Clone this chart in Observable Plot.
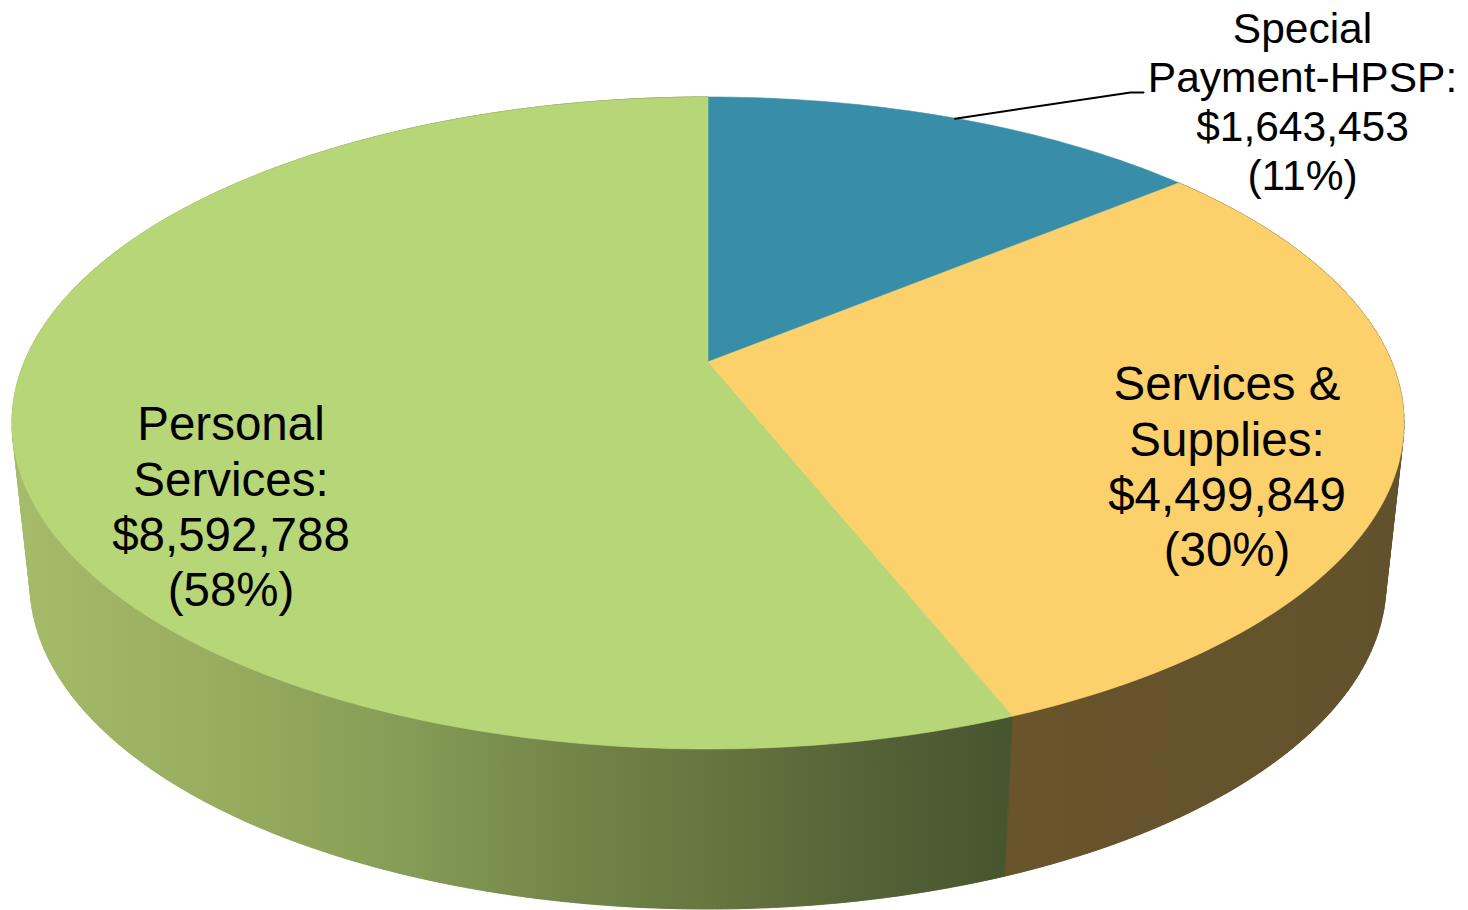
<!DOCTYPE html>
<html>
<head>
<meta charset="utf-8">
<title>Expenditures by category</title>
<script src="https://cdn.jsdelivr.net/npm/d3@7"></script>
<script src="https://cdn.jsdelivr.net/npm/@observablehq/plot@0.6"></script>
<style>
  html, body { margin: 0; padding: 0; background: #fff; overflow: hidden; }
  svg { display: block; }
</style>
</head>
<body>
<div id="chart"></div>
<script>
// Budget categories, clockwise from twelve o'clock.
const categories = ["Special Payment-HPSP", "Services & Supplies", "Personal Services"];
const labelLines = ["Special\nPayment-HPSP:", "Services &\nSupplies:", "Personal\nServices:"];
const amounts = [1643453, 4499849, 8592788];
const percents = [11, 30, 58];

const W = 1468, H = 910;

// Tilted-disc view: rim ellipses of the top and bottom faces and the projected centre.
const topRim = {cx: 708, cy: 423, rx: 696, ry: 326};
const bottomRim = {cx: 708, cy: 583, rx: 678, ry: 326};
const apex = {x: 708, y: 362};

// Perspective shifts the true angle slightly along the rim.
const rad = Math.PI / 180;
const rimAngle = (deg) => deg + 5.78 * Math.sin(deg * rad) - 1.29 * Math.sin(2 * deg * rad);
const rimPoint = (ring, deg) => {
  const a = rimAngle(deg) * rad;
  return {x: ring.cx + ring.rx * Math.sin(a), y: ring.cy - ring.ry * Math.cos(a)};
};

// Share of the disc taken by each category, as start and end angles.
const total = d3.sum(amounts);
let running = 0;
const slices = categories.map((name, i) => {
  const start = (running / total) * 360;
  running += amounts[i];
  const end = (running / total) * 360;
  return {name, start, end, mid: (start + end) / 2};
});

// Sweep of one slice, sampled finely enough that the rim reads as a curve.
const sweep = ({start, end}) => {
  const n = Math.ceil(end - start);
  return d3.range(n + 1).map((i) => start + ((end - start) * i) / n);
};

const faceRows = (s) => sweep(s).map((deg) => {
  const p = rimPoint(topRim, deg);
  return {x1: apex.x, y1: apex.y, x2: p.x, y2: p.y};
});

const wallRow = (deg) => {
  const p = rimPoint(topRim, deg), q = rimPoint(bottomRim, deg);
  return {x1: p.x, y1: p.y, x2: q.x, y2: q.y};
};

// One ribbon between the rims for the body of the wall.
const sideRows = (s) => sweep(s).map(wallRow);

// Separate quads underneath it fill the slivers between the rims and the
// straight silhouette that joins them at the left and right ends of the disc.
const silhouetteRows = (s) =>
  d3.pairs(sweep(s)).flatMap(([a, b], strip) => [a, b].map((deg) => ({strip, ...wallRow(deg)})));

const faceColors = ["#388ea9", "#fcd16b", "#b6d677"];

// Horizontal shading for the wall of the large slice, plus the darker wall beside it.
const gradients = () => {
  const defs = d3.create("svg:defs");
  const shade = defs.append("linearGradient")
    .attr("id", "wall-green")
    .attr("gradientUnits", "userSpaceOnUse")
    .attr("x1", 12).attr("x2", 1010).attr("y1", 0).attr("y2", 0);
  [[0, "#a5bc6a"], [0.2, "#98ad5f"], [0.4, "#849c55"], [0.56, "#728549"],
   [0.7, "#66763f"], [0.85, "#566338"], [1, "#47552e"]]
    .forEach(([o, c]) => shade.append("stop").attr("offset", o).attr("stop-color", c));
  const brown = defs.append("linearGradient")
    .attr("id", "wall-orange")
    .attr("gradientUnits", "userSpaceOnUse")
    .attr("x1", 1005).attr("x2", 1400).attr("y1", 0).attr("y2", 0);
  [[0, "#6a542b"], [0.5, "#65532b"], [1, "#62522c"]]
    .forEach(([o, c]) => brown.append("stop").attr("offset", o).attr("stop-color", c));
  return defs.node();
};

const labelText = categories.map((_, i) =>
  `${labelLines[i]}\n$${d3.format(",")(amounts[i])}\n(${percents[i]}%)`);

// Leader from near the middle of the smallest slice to its label.
const leaderStart = rimPoint(topRim, slices[0].mid - 0.45);
const leader = [leaderStart, {x: 1130, y: 92}, {x: 1143, y: 92}];

const area = (rows, fill) => Plot.area(rows, {
  x1: "x1", y1: "y1", x2: "x2", y2: "y2", z: "strip", fill, stroke: fill, strokeWidth: 0.6
});

const label = (i, x, y, fontSize, lineHeight) => Plot.text([labelText[i]], {
  text: (d) => d, x: () => x, y: () => y,
  fontSize, lineHeight, fill: "#000", textAnchor: "middle", lineAnchor: "middle"
});

const chart = Plot.plot({
  width: W,
  height: H,
  margin: 0,
  style: {fontFamily: "'Liberation Sans', Arial, sans-serif", background: "#fff", overflow: "hidden"},
  x: {domain: [0, W], range: [0, W], axis: null},
  y: {domain: [0, H], range: [0, H], axis: null},
  marks: [
    gradients,
    area(silhouetteRows(slices[1]), "url(#wall-orange)"),
    area(silhouetteRows(slices[2]), "url(#wall-green)"),
    area(sideRows(slices[1]), "url(#wall-orange)"),
    area(sideRows(slices[2]), "url(#wall-green)"),
    ...slices.map((s, i) => area(faceRows(s), faceColors[i])),
    Plot.line(leader, {x: "x", y: "y", stroke: "#000", strokeWidth: 2}),
    label(0, 1302, 100, 42.5, 1.153),
    label(1, 1226.5, 465, 47.5, 1.168),
    label(2, 230.5, 505, 47.5, 1.168)
  ]
});

document.getElementById("chart").append(chart);
</script>
</body>
</html>
